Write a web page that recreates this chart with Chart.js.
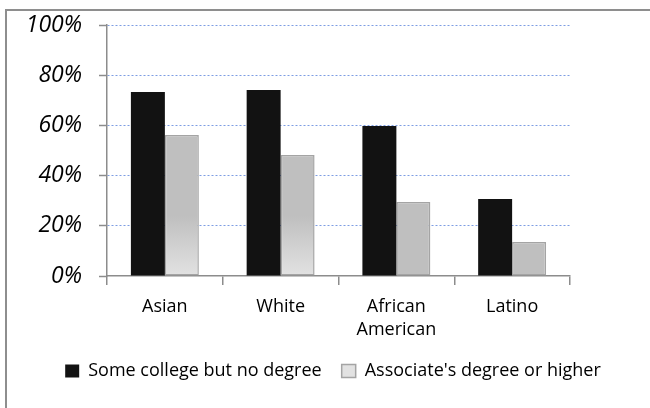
<!DOCTYPE html>
<html>
<head>
<meta charset="utf-8">
<script src="https://cdn.jsdelivr.net/npm/chart.js@4/dist/chart.umd.min.js"></script>
<style>
  html, body { margin: 0; padding: 0; background: #fff; overflow: hidden; }
  #wrap { position: relative; width: 650px; height: 408px; }
  #frame { position: absolute; left: 5px; top: 9px; width: 700px; height: 500px;
           border-left: 2px solid #8e8e8e; border-top: 2px solid #8e8e8e; pointer-events: none; }
  canvas { position: absolute; left: 0; top: 0; }
</style>
</head>
<body>
<div id="wrap">
  <div id="frame"></div>
  <canvas id="c" width="650" height="408"></canvas>
</div>
<script>
const categories = ["Asian", "White", ["African", "American"], "Latino"];
const someCollegeNoDegree = [73.3, 74.1, 59.8, 30.7];
const associatesOrHigher = [56.2, 48.2, 29.5, 13.5];
const seriesNames = ["Some college but no degree", "Associate's degree or higher"];
const yTicks = [0, 20, 40, 60, 80, 100];

const AXIS = '#8c8c8c';
const GRAY = '#bfbfbf';
const GRID = '#7d9de3';

function grayFill(ctx) {
  const chart = ctx.chart;
  if (ctx.type !== 'data' || ctx.dataIndex > 1 || !chart.chartArea) return GRAY;
  const y = chart.scales.y;
  const g = chart.ctx.createLinearGradient(0, y.getPixelForValue(24), 0, y.getPixelForValue(0));
  g.addColorStop(0, GRAY);
  g.addColorStop(1, '#e2e2e2');
  return g;
}

new Chart(document.getElementById('c'), {
  type: 'bar',
  data: {
    labels: categories,
    datasets: [
      { label: seriesNames[0], data: someCollegeNoDegree, backgroundColor: '#121212',
        borderWidth: 0, categoryPercentage: 0.587, barPercentage: 1.0 },
      { label: seriesNames[1], data: associatesOrHigher, backgroundColor: grayFill,
        borderColor: '#a4a4a4', borderWidth: 1.5, borderSkipped: false,
        categoryPercentage: 0.587, barPercentage: 1.0 }
    ]
  },
  options: {
    responsive: false,
    animation: false,
    devicePixelRatio: 1,
    layout: { padding: { left: 16, right: 0, top: 25, bottom: 18 } },
    plugins: {
      tooltip: { enabled: false },
      legend: {
        position: 'bottom',
        labels: {
          color: '#000',
          font: { family: 'Open Sans', size: 18 },
          boxWidth: 14, boxHeight: 13, padding: 20
        }
      }
    },
    scales: {
      x: {
        grid: { display: true, drawOnChartArea: false, offset: true, tickLength: 9,
                color: AXIS, tickColor: AXIS, lineWidth: 1.5 },
        border: { display: true, color: AXIS, width: 1.5 },
        ticks: { color: '#000', font: { family: 'Open Sans', size: 18, lineHeight: 1.3 },
                 padding: 10, maxRotation: 0, autoSkip: false },
        afterFit(s) { s.height = 66; }
      },
      y: {
        min: 0, max: 100,
        afterBuildTicks(s) { s.ticks = yTicks.map(v => ({ value: v })); },
        grid: {
          color: (c) => (c.tick && c.tick.value === 0) ? 'rgba(0,0,0,0)' : GRID,
          lineWidth: 1, tickLength: 8, tickColor: AXIS, tickWidth: 1.5, tickBorderDash: []
        },
        border: { display: true, color: AXIS, width: 1.5, dash: [2, 2] },
        ticks: { color: '#000', font: { family: 'Open Sans', size: 23, style: 'italic', lineHeight: 0.6 },
                 padding: 17, callback: (v) => v + '%' },
        afterFit(s) { s.width = 91; }
      },
      y2: {
        type: 'linear', position: 'right', display: true,
        grid: { display: false }, border: { display: false },
        ticks: { display: false },
        afterFit(s) { s.width = 80; }
      }
    }
  }
});
</script>
</body>
</html>
